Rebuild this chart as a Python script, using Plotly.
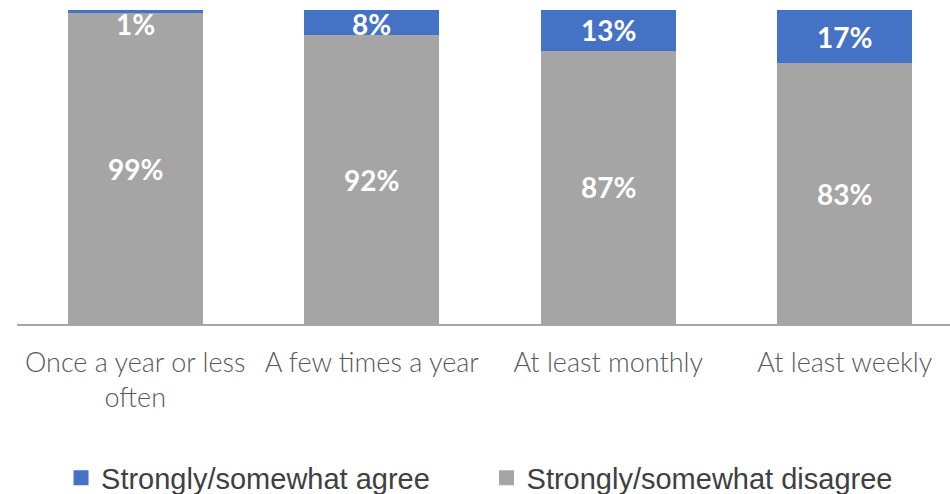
import plotly.graph_objects as go

# Survey responses by frequency
categories = ["Once a year or less<br>often", "A few times a year", "At least monthly", "At least weekly"]
agree = [1, 8, 13, 17]
disagree = [99, 92, 87, 83]

series_names = ["Strongly/somewhat agree", "Strongly/somewhat disagree"]
BLUE = "#4472C4"
GREY = "#A5A5A5"

fig = go.Figure()

# stacked bars: disagree at the bottom, agree on top
fig.add_trace(go.Bar(
    x=categories, y=[v / 100 for v in disagree], name=series_names[1],
    marker=dict(color=GREY, line=dict(width=0)), width=0.57, showlegend=False,
))
fig.add_trace(go.Bar(
    x=categories, y=[v / 100 for v in agree], name=series_names[0],
    marker=dict(color=BLUE, line=dict(width=0)), width=0.57, showlegend=False,
))

# legend entries with larger square swatches
for name, col in zip(series_names, [BLUE, GREY]):
    fig.add_trace(go.Scatter(
        x=[None], y=[None], mode="markers", name=name,
        marker=dict(symbol="square", size=15, color=col),
    ))

label_font = dict(family="Lato", size=28, color="white", weight="bold")
for cat, a, d in zip(categories, agree, disagree):
    fig.add_annotation(x=cat, y=d / 200, text=f"{d}%", showarrow=False,
                       font=label_font, xref="x", yref="y")
    # thin top segments get their label kept just below the top edge
    ya = min((d + a / 2) / 100, 0.955)
    fig.add_annotation(x=cat, y=ya, text=f"{a}%", showarrow=False,
                       font=label_font, xref="x", yref="y")

fig.update_layout(
    width=950, height=494,
    margin=dict(l=17, r=0, t=10, b=170, autoexpand=False),
    barmode="stack",
    plot_bgcolor="white", paper_bgcolor="white",
    xaxis=dict(
        range=[-0.5, 3.445], showline=True, linecolor="#A6A6A6", linewidth=1.5,
        showgrid=False, ticks="", ticklabelstandoff=14,
        tickfont=dict(family="Lato", size=27, color="#595959", weight=300),
        fixedrange=True,
    ),
    yaxis=dict(range=[0, 1], visible=False, showgrid=False, fixedrange=True),
    legend=dict(
        orientation="h", x=0.0472, xanchor="left", y=-0.49, yanchor="middle",
        traceorder="normal",
        font=dict(family="Liberation Sans", size=29, color="#404040"),
        entrywidth=380.5, entrywidthmode="pixels", itemwidth=30,
        bgcolor="rgba(0,0,0,0)",
    ),
)

fig.write_html("out.html")
